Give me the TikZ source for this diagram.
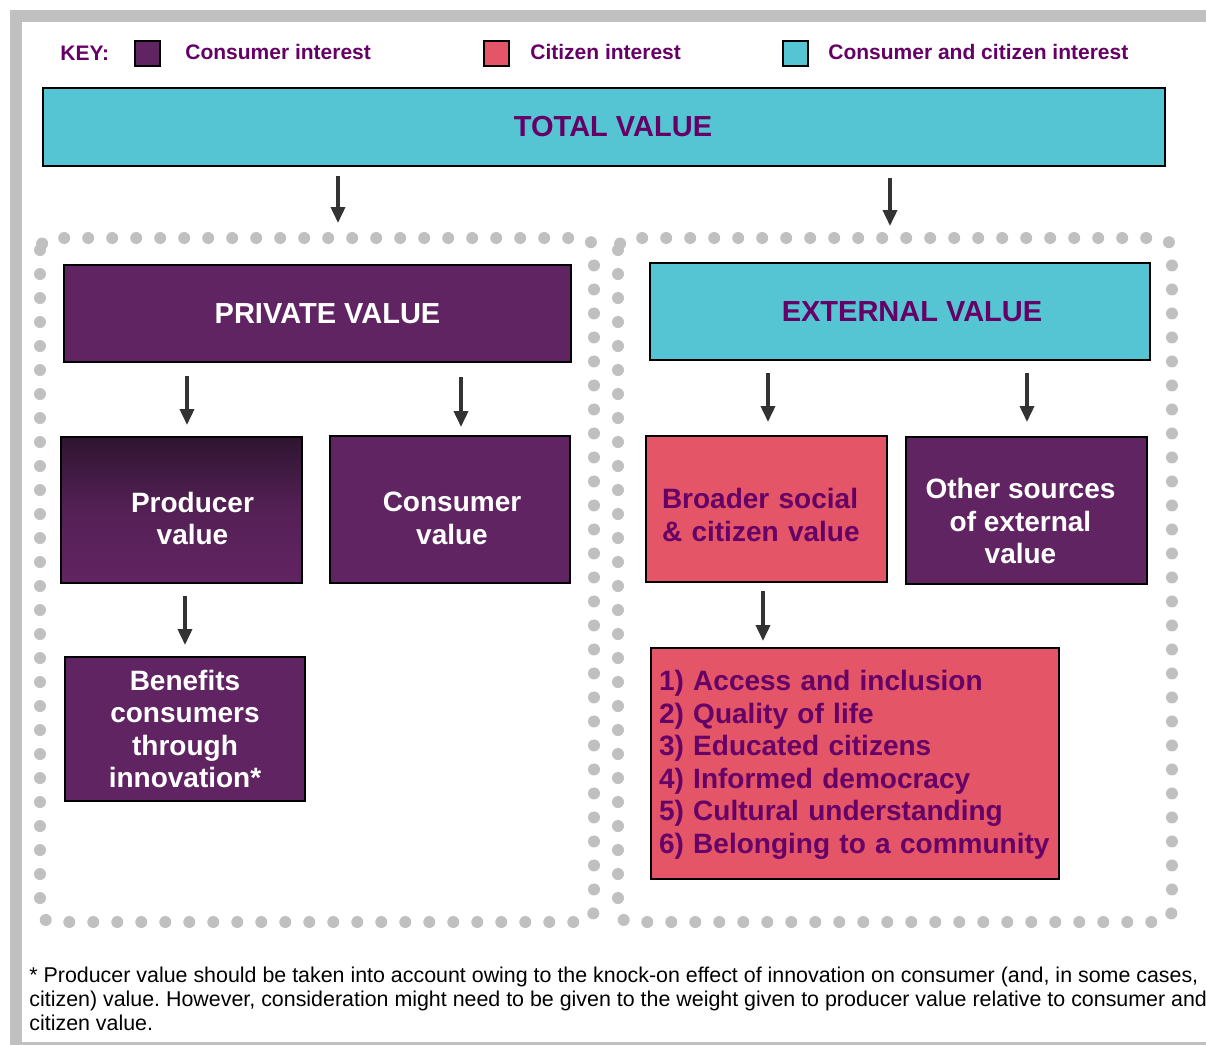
\documentclass[tikz,border=0pt]{standalone}
\usepackage{fontspec}
\setmainfont{Liberation Sans}
\usetikzlibrary{positioning,arrows.meta}
\frenchspacing

\definecolor{purp}{HTML}{612462}
\definecolor{purpdark}{HTML}{2E1530}
\definecolor{cyanbox}{HTML}{55C4D3}
\definecolor{redbox}{HTML}{E35567}
\definecolor{keytext}{HTML}{660066}
\definecolor{dotgray}{HTML}{C0C0C0}
\definecolor{arrowgray}{HTML}{333333}

% text block lowered inside its box
\newcommand{\boxtext}[3]{\raisebox{#1}[\height][\depth]{\begin{tabular}{@{}#2@{}}#3\end{tabular}}}

\begin{document}
\begin{tikzpicture}[x=0.5pt,y=-0.5pt]
     \useasboundingbox (0,0) rectangle (1206,1045);
     % page frame
     \fill[dotgray] (10,10) rectangle (1206,22);
     \fill[dotgray] (10,10) rectangle (22,1045);
     \fill[dotgray] (22,1042) rectangle (1206,1045);
     % dotted groups
     \tikzstyle{dots} = [draw=dotgray, line width=6pt, line cap=round, dash pattern=on 0pt off 12pt, rounded corners=6pt]
     \draw[dots] (40,238) rectangle (594,922);
     \draw[dots] (618,238) rectangle (1172,922);
     % key
     \tikzstyle{keytxt} = [anchor=west, inner sep=0pt, text=keytext, font=\fontsize{10.5}{12}\selectfont\bfseries]
     \tikzstyle{swatch} = [draw=black, line width=1pt, minimum size=12.5pt, inner sep=0pt]
     \node[keytxt] (key) at (60,53) {KEY:};
     \node[swatch, fill=purp] (k1) at (147.5,53) {};
     \node[keytxt] (k1t) at (185,52) {Consumer interest};
     \node[swatch, fill=redbox] (k2) at (496.5,53) {};
     \node[keytxt] (k2t) at (530,52) {Citizen interest};
     \node[swatch, fill=cyanbox] (k3) at (795.5,53) {};
     \node[keytxt] (k3t) at (828,52) {Consumer and citizen interest};
     % boxes
     \tikzstyle{box} = [draw=black, line width=1pt, align=center, inner sep=0pt, font=\fontsize{14}{16.25}\selectfont\bfseries]
     \tikzstyle{head} = [box, font=\fontsize{14.5}{16}\selectfont\bfseries]
     \tikzstyle{flow} = [-{Triangle[length=8pt,width=7pt]}, line width=1.8pt, draw=arrowgray, fill=arrowgray]
     \node[head, fill=cyanbox, text=keytext, minimum width=561pt, minimum height=39pt] (total) at (604,127) {\hspace*{9pt}TOTAL VALUE};
     \node[head, fill=purp, text=white, minimum width=253.5pt, minimum height=48.5pt] (private) at (317.5,313.5) {\hspace*{10pt}PRIVATE VALUE};
     \node[head, fill=cyanbox, text=keytext, minimum width=250pt, minimum height=48.5pt] (external) at (900,311.5) {\hspace*{12pt}EXTERNAL VALUE};
     \node[box, top color=purpdark, bottom color=purp, middle color=purp!75!purpdark, text=white, minimum width=120.5pt, minimum height=73pt] (producer) at (181.5,510) {\hspace*{11pt}\boxtext{-6pt}{c}{Producer\\value}};
     \node[box, fill=purp, text=white, minimum width=120pt, minimum height=73.5pt] (consumer) at (450,509.5) {\hspace*{2pt}\boxtext{-6pt}{c}{Consumer\\value}};
     \node[box, fill=redbox, text=keytext, align=left, text width=104.5pt, inner sep=8pt, minimum width=120.5pt, minimum height=73pt] (broader) at (766.5,509) {\boxtext{-4.75pt}{l}{Broader social\\\& citizen value}};
     \node[box, fill=purp, text=white, minimum width=120.5pt, minimum height=73.5pt] (other) at (1026.5,510.5) {\hspace*{-6pt}\boxtext{-7pt}{c}{Other sources\\of external\\value}};
     \node[box, fill=purp, text=white, minimum width=120pt, minimum height=72pt] (benefits) at (185,729) {Benefits\\consumers\\through\\innovation*};
     \node[box, fill=redbox, text=keytext, align=left, text width=196pt, inner sep=4pt, minimum width=204pt, minimum height=115.5pt] (list) at (855,763.5) {\boxtext{-1pt}{l}{1) Access and inclusion\\2) Quality of life\\3) Educated citizens\\4) Informed democracy\\5) Cultural understanding\\6) Belonging to a community}};
     % arrows
     \draw[flow] ([xshift=10.25pt,yshift=-4.5pt]private.north |- total.south) -- ++(0,47);
     \draw[flow] ([xshift=-5pt,yshift=-5.5pt]external.north |- total.south) -- ++(0,48);
     \draw[flow] ([xshift=2.75pt,yshift=-6.5pt]producer.north |- private.south) -- ++(0,49);
     \draw[flow] ([xshift=5.5pt,yshift=-7pt]consumer.north |- private.south) -- ++(0,50);
     \draw[flow] ([xshift=0.75pt,yshift=-6pt]broader.north |- external.south) -- ++(0,49);
     \draw[flow] ([xshift=0.25pt,yshift=-6pt]other.north |- external.south) -- ++(0,49);
     \draw[flow] ([yshift=-6pt]benefits.north |- producer.south) -- ++(0,49);
     \draw[flow] ([xshift=-46pt,yshift=-4pt]list.north |- broader.south) -- ++(0,50);
     % footnote
     \node[anchor=north west, align=left, inner sep=0pt, font=\fontsize{10.7}{12}\selectfont] (note) at (29,967) {* Producer value should be taken into account owing to the knock-on effect of innovation on consumer (and, in some cases,\\citizen) value. However, consideration might need to be given to the weight given to producer value relative to consumer and\\citizen value.};
\end{tikzpicture}
\end{document}
